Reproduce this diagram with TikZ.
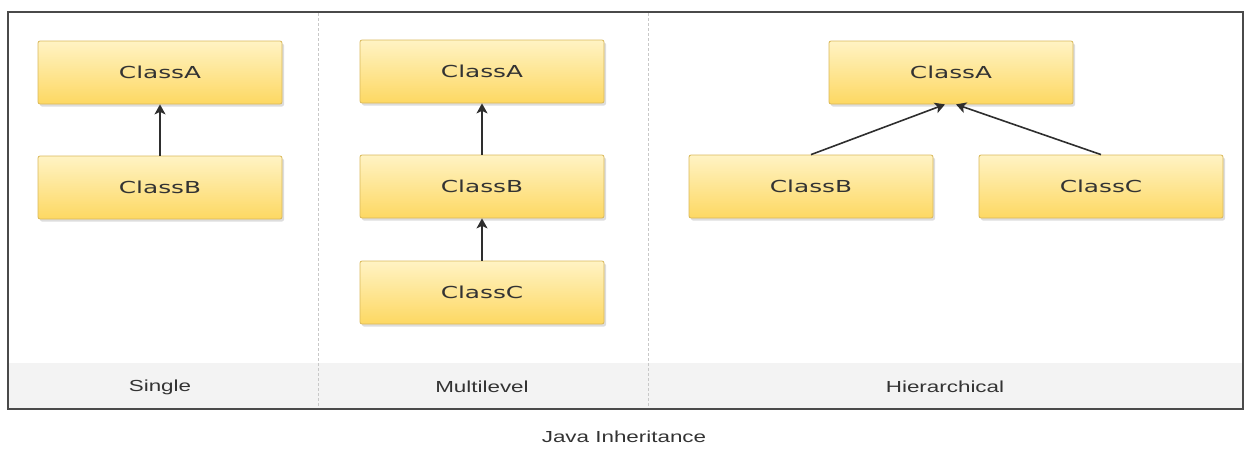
\documentclass[tikz,border=0pt]{standalone}
\usepackage{fontspec}
\newfontfamily\classfont[FakeStretch=1.5]{DejaVu Sans}
\newfontfamily\labelfont[FakeStretch=1.4]{Liberation Sans}
\usetikzlibrary{arrows.meta,shadows}

\definecolor{boxtop}{HTML}{FFF3C4}
\definecolor{boxbottom}{HTML}{FDD862}
\definecolor{boxline}{HTML}{D9B85A}
\definecolor{inktext}{HTML}{333333}
\definecolor{arrowink}{HTML}{2E2E2E}
\definecolor{framecol}{HTML}{4A4A4A}
\definecolor{bandfill}{HTML}{F3F3F3}
\definecolor{dividercol}{HTML}{C8C8C8}

\tikzset{
  classbox/.style={draw=boxline, line width=0.8pt, rounded corners=2pt,
    top color=boxtop, bottom color=boxbottom,
    minimum width=244pt, minimum height=63pt, inner sep=0pt,
    font=\classfont\fontsize{16.5}{19}\selectfont, text=inktext,
    drop shadow={shadow xshift=2pt, shadow yshift=-2.5pt, fill=black!22, opacity=0.6}},
  inherit/.style={draw=arrowink, line width=1.6pt,
    -{Stealth[length=10pt,width=11pt,inset=2.5pt]}},
  caption/.style={font=\labelfont\fontsize{16}{19}\selectfont, text=inktext},
  divider/.style={draw=dividercol, line width=0.8pt, dash pattern=on 2.5pt off 2.5pt}
}

\begin{document}
\begin{tikzpicture}[x=1pt, y=-1pt]
  \useasboundingbox (0,0) rectangle (1251,448);

  % caption band and outer frame
  \fill[bandfill] (8,363) rectangle (1243,409);
  \coordinate (d1top) at (318,13);
  \coordinate (d1bot) at (318,408);
  \coordinate (d2top) at (648,13);
  \coordinate (d2bot) at (648,408);
  \draw[divider] (d1top) -- (d1bot);
  \draw[divider] (d2top) -- (d2bot);
  \draw[framecol, line width=1.5pt] (8,12) rectangle (1243,409);

  % single inheritance
  \node[classbox] (sA) at (160,72.5) {ClassA};
  \node[classbox] (sB) at (160,187.5) {ClassB};
  \draw[inherit] (sB) -- (sA);

  % multilevel inheritance
  \node[classbox] (mA) at (482,71.5) {ClassA};
  \node[classbox] (mB) at (482,186.5) {ClassB};
  \node[classbox] (mC) at (482,292.5) {ClassC};
  \draw[inherit] (mB) -- (mA);
  \draw[inherit] (mC) -- (mB);

  % hierarchical inheritance
  \node[classbox] (hA) at (951,72.5) {ClassA};
  \node[classbox] (hB) at (811,186.5) {ClassB};
  \node[classbox] (hC) at (1101,186.5) {ClassC};
  \draw[inherit] (hB.north) -- ([xshift=-6pt]hA.south);
  \draw[inherit] (hC.north) -- ([xshift=5pt]hA.south);

  % captions
  \node[caption] (capS) at (160,387) {Single};
  \node[caption] (capM) at (482,387) {Multilevel};
  \node[caption] (capH) at (945,387) {Hierarchical};
  \node[caption] (title) at (624,437) {Java Inheritance};
\end{tikzpicture}
\end{document}
